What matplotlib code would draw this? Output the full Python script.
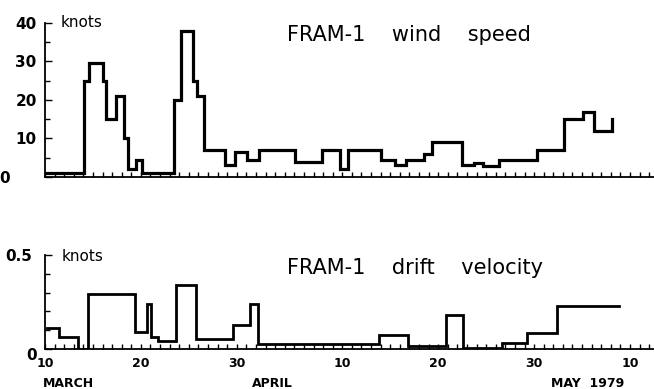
import matplotlib
matplotlib.use("Agg")
import matplotlib.pyplot as plt
import matplotlib.transforms as mtransforms
from matplotlib.ticker import FixedLocator, MultipleLocator

# x values are day numbers counted from 1 March 1979 (1 April = 32, 1 May = 62)
wind_edges = [10.1, 14.1, 14.6, 16.0, 16.4, 17.4, 18.2, 18.7, 19.5, 20.1,
              23.4, 24.2, 25.4, 25.8, 26.6, 28.8, 29.8, 31.1, 32.3, 36.1,
              38.9, 40.8, 41.6, 45.0, 46.5, 47.6, 49.5, 50.4, 53.5, 54.7,
              55.7, 57.3, 61.3, 64.1, 66.1, 67.2, 69.1]
wind_knots = [1, 25, 29.5, 25, 15, 21, 10, 2, 4.5, 1,
              20, 38, 25, 21, 7, 3, 6.5, 4.5, 7, 4,
              7, 2, 7, 4.5, 3, 4.5, 6, 9, 3, 3.7,
              2.8, 4.5, 7, 15, 17, 12]
wind_last = 15

drift_edges = [10.2, 11.5, 13.4, 14.5, 19.4, 20.6, 21.1, 21.8, 23.7, 25.7,
               29.6, 31.4, 32.2, 44.8, 47.8, 51.8, 53.6, 57.7, 60.3, 63.4,
               69.9]
drift_knots = [0.11, 0.063, 0, 0.29, 0.09, 0.24, 0.063, 0.04, 0.34, 0.053,
               0.13, 0.24, 0.025, 0.074, 0.018, 0.18, 0.005, 0.03, 0.084, 0.23]

date_ticks = [10, 20, 30, 41, 51, 61, 71]
date_labels = ["10", "20", "30", "10", "20", "30", "10"]
months = ["MARCH", "APRIL", "MAY  1979"]
month_days = [9.8, 33.7, 66.6]

wind_ticks = [0, 10, 20, 30, 40]
drift_ticks = [0, 0.5]
drift_tick_labels = ["0", "0.5"]

fig = plt.figure(figsize=(6.54, 3.89), dpi=100)
ax1 = fig.add_axes([0.0688, 0.545, 0.9312, 0.3959])
ax2 = fig.add_axes([0.0688, 0.1028, 0.9312, 0.2417])


def style(ax):
    ax.spines["top"].set_visible(False)
    ax.spines["right"].set_visible(False)
    ax.spines["left"].set_linewidth(1.3)
    ax.spines["bottom"].set_linewidth(1.3)
    ax.set_xlim(10, 73.5)
    ax.xaxis.set_major_locator(FixedLocator(date_ticks))
    ax.xaxis.set_minor_locator(MultipleLocator(1))
    ax.tick_params(which="both", direction="in", length=3.5, width=1.0)
    ax.tick_params(axis="y", which="major", length=5, pad=6)


style(ax1)
ax1.step(wind_edges, wind_knots + [wind_last], where="post", color="black",
         lw=2.3, solid_joinstyle="miter")
ax1.set_ylim(0, 40)
ax1.yaxis.set_major_locator(FixedLocator(wind_ticks))
ax1.yaxis.set_minor_locator(MultipleLocator(5))
ax1.set_yticklabels([str(t) for t in wind_ticks], fontsize=11, fontweight="bold")
ax1.set_xticklabels([])
ax1.text(0.025, 1.0, "knots", transform=ax1.transAxes, fontsize=11, va="center")
ax1.text(0.397, 0.922, "FRAM-1    wind    speed", transform=ax1.transAxes,
         fontsize=15, va="center", ha="left")

style(ax2)
ax2.step(drift_edges, drift_knots + [drift_knots[-1]], where="post", color="black",
         lw=2.0, solid_joinstyle="miter")
ax2.set_ylim(0, 0.5)
ax2.yaxis.set_major_locator(FixedLocator(drift_ticks))
ax2.yaxis.set_minor_locator(MultipleLocator(0.1))
ax2.set_yticklabels(drift_tick_labels, fontsize=11, fontweight="bold")
ax2.set_xticklabels(date_labels, fontsize=9, fontweight="bold")
ax2.tick_params(axis="x", which="major", pad=6)
ax2.text(0.027, 0.98, "knots", transform=ax2.transAxes, fontsize=11, va="center")
ax2.text(0.397, 0.862, "FRAM-1    drift    velocity", transform=ax2.transAxes,
         fontsize=15, va="center", ha="left")

for name, day, ha in zip(months, month_days, ["left", "center", "center"]):
    ax2.annotate(name, xy=(day, 0), xycoords=("data", "axes fraction"),
                 xytext=(0, -25), textcoords="offset points",
                 ha=ha, va="center", fontsize=9, fontweight="bold")

# the zero of the wind axis sits further left in the original
lbl = ax1.yaxis.get_major_ticks()[0].label1
lbl.set_transform(lbl.get_transform() +
                  mtransforms.ScaledTranslation(-0.27, 0, fig.dpi_scale_trans))
lbl = ax2.yaxis.get_major_ticks()[0].label1
lbl.set_transform(lbl.get_transform() +
                  mtransforms.ScaledTranslation(0, -0.05, fig.dpi_scale_trans))
lbl = ax2.yaxis.get_major_ticks()[1].label1
lbl.set_transform(lbl.get_transform() +
                  mtransforms.ScaledTranslation(-0.05, 0, fig.dpi_scale_trans))

fig.savefig("out.png", dpi=100)
